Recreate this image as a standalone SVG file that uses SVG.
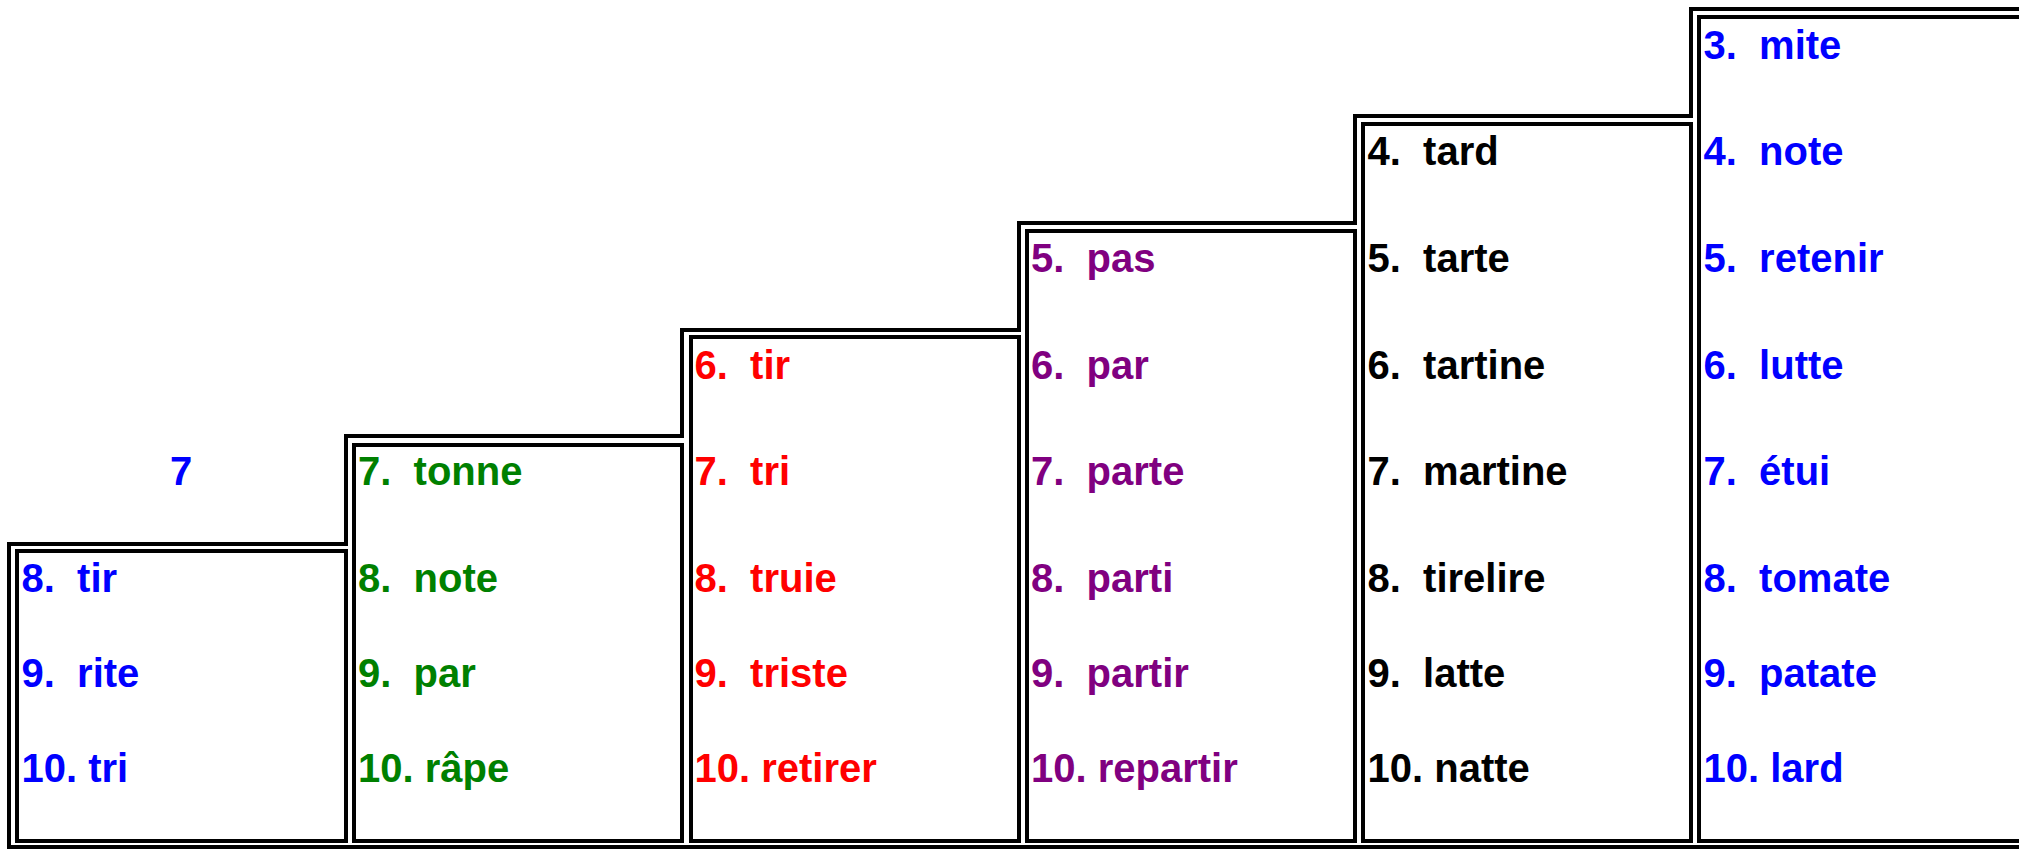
<svg xmlns="http://www.w3.org/2000/svg" width="2019" height="849" viewBox="0 0 2019 849">
<style>
.ln{fill:none;stroke:#000;stroke-width:4;stroke-linejoin:miter;stroke-linecap:square}
text{font-family:"Liberation Sans",Arial,sans-serif;font-weight:bold;font-size:40px;white-space:pre}
.b{fill:#0000FF}.g{fill:#008000}.r{fill:#FF0000}.p{fill:#800080}.k{fill:#000}
</style>
<rect width="2019" height="849" fill="#fff"/>
<g id="outline">
<path class="ln" d="M9 847 V544 H346 V436 H682 V330 H1019 V223 H1355 V116 H1691 V9 H2030 M9 847 H2030"/>
</g>
<g id="col1">
<rect class="ln" x="17" y="551" width="329" height="290"/>
<text class="b" x="181" y="485.3" text-anchor="middle">7</text>
<text class="b" x="21.5" y="592">8.  tir</text>
<text class="b" x="21.5" y="687">9.  rite</text>
<text class="b" x="21.5" y="782">10. tri</text>
</g>
<g id="col2">
<rect class="ln" x="354" y="445" width="328" height="396"/>
<text class="g" x="358" y="485.3">7.  tonne</text>
<text class="g" x="358" y="592">8.  note</text>
<text class="g" x="358" y="687">9.  par</text>
<text class="g" x="358" y="782">10. râpe</text>
</g>
<g id="col3">
<rect class="ln" x="691" y="337" width="328" height="504"/>
<text class="r" x="694.5" y="378.6">6.  tir</text>
<text class="r" x="694.5" y="485.3">7.  tri</text>
<text class="r" x="694.5" y="592">8.  truie</text>
<text class="r" x="694.5" y="687">9.  triste</text>
<text class="r" x="694.5" y="782">10. retirer</text>
</g>
<g id="col4">
<rect class="ln" x="1027" y="231" width="328" height="610"/>
<text class="p" x="1031" y="271.9">5.  pas</text>
<text class="p" x="1031" y="378.6">6.  par</text>
<text class="p" x="1031" y="485.3">7.  parte</text>
<text class="p" x="1031" y="592">8.  parti</text>
<text class="p" x="1031" y="687">9.  partir</text>
<text class="p" x="1031" y="782">10. repartir</text>
</g>
<g id="col5">
<rect class="ln" x="1363" y="124" width="328" height="717"/>
<text class="k" x="1367.5" y="165.2">4.  tard</text>
<text class="k" x="1367.5" y="271.9">5.  tarte</text>
<text class="k" x="1367.5" y="378.6">6.  tartine</text>
<text class="k" x="1367.5" y="485.3">7.  martine</text>
<text class="k" x="1367.5" y="592">8.  tirelire</text>
<text class="k" x="1367.5" y="687">9.  latte</text>
<text class="k" x="1367.5" y="782">10. natte</text>
</g>
<g id="col6">
<rect class="ln" x="1699" y="17" width="340" height="824"/>
<text class="b" x="1703.5" y="58.5">3.  mite</text>
<text class="b" x="1703.5" y="165.2">4.  note</text>
<text class="b" x="1703.5" y="271.9">5.  retenir</text>
<text class="b" x="1703.5" y="378.6">6.  lutte</text>
<text class="b" x="1703.5" y="485.3">7.  étui</text>
<text class="b" x="1703.5" y="592">8.  tomate</text>
<text class="b" x="1703.5" y="687">9.  patate</text>
<text class="b" x="1703.5" y="782">10. lard</text>
</g>
</svg>
